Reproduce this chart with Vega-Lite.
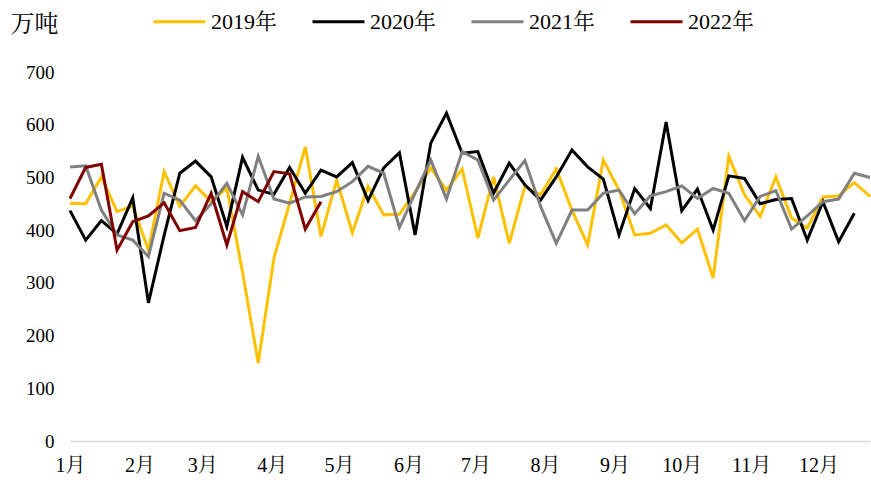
{
  "$schema": "https://vega.github.io/schema/vega-lite/v6.json",
  "width": 800,
  "height": 369,
  "autosize": {"type": "none"},
  "padding": {"left": 70, "top": 72, "right": 1, "bottom": 41},
  "background": "white",
  "config": {"view": {"stroke": null}, "font": "Liberation Serif, Noto Serif CJK SC, Noto Sans CJK SC"},
  "data": {"values": [
    {"week": "2021-01-01", "2019年": 451, "2020年": 437, "2021年": 520, "2022年": 460},
    {"week": "2021-01-08", "2019年": 450, "2020年": 381, "2021年": 522, "2022年": 519},
    {"week": "2021-01-15", "2019年": 501, "2020年": 418, "2021年": 438, "2022年": 525},
    {"week": "2021-01-22", "2019年": 435, "2020年": 393, "2021年": 391, "2022年": 362},
    {"week": "2021-01-29", "2019年": 446, "2020年": 461, "2021年": 381, "2022年": 416},
    {"week": "2021-02-05", "2019年": 362, "2020年": 262, "2021年": 350, "2022年": 427},
    {"week": "2021-02-12", "2019年": 511, "2020年": 390, "2021年": 470, "2022年": 452},
    {"week": "2021-02-19", "2019年": 445, "2020年": 508, "2021年": 457, "2022年": 399},
    {"week": "2021-02-26", "2019年": 484, "2020年": 531, "2021年": 418, "2022年": 405},
    {"week": "2021-03-05", "2019年": 454, "2020年": 501, "2021年": 450, "2022年": 470},
    {"week": "2021-03-12", "2019年": 480, "2020年": 407, "2021年": 489, "2022年": 372},
    {"week": "2021-03-19", "2019年": 320, "2020年": 538, "2021年": 429, "2022年": 473},
    {"week": "2021-03-26", "2019年": 148, "2020年": 476, "2021年": 540, "2022年": 454},
    {"week": "2021-04-02", "2019年": 347, "2020年": 468, "2021年": 459, "2022年": 511},
    {"week": "2021-04-09", "2019年": 451, "2020年": 519, "2021年": 451, "2022年": 507},
    {"week": "2021-04-16", "2019年": 558, "2020年": 470, "2021年": 463, "2022年": 402},
    {"week": "2021-04-23", "2019年": 388, "2020年": 514, "2021年": 464, "2022年": 454},
    {"week": "2021-04-30", "2019年": 495, "2020年": 501, "2021年": 473},
    {"week": "2021-05-07", "2019年": 395, "2020年": 528, "2021年": 492},
    {"week": "2021-05-14", "2019年": 483, "2020年": 456, "2021年": 521},
    {"week": "2021-05-21", "2019年": 429, "2020年": 518, "2021年": 508},
    {"week": "2021-05-28", "2019年": 430, "2020年": 547, "2021年": 405},
    {"week": "2021-06-04", "2019年": 472, "2020年": 391, "2021年": 470},
    {"week": "2021-06-11", "2019年": 518, "2020年": 565, "2021年": 533},
    {"week": "2021-06-18", "2019年": 476, "2020年": 622, "2021年": 459},
    {"week": "2021-06-25", "2019年": 516, "2020年": 546, "2021年": 549},
    {"week": "2021-07-02", "2019年": 385, "2020年": 549, "2021年": 533},
    {"week": "2021-07-09", "2019年": 501, "2020年": 470, "2021年": 457},
    {"week": "2021-07-16", "2019年": 375, "2020年": 527, "2021年": 495},
    {"week": "2021-07-23", "2019年": 483, "2020年": 486, "2021年": 532},
    {"week": "2021-07-30", "2019年": 467, "2020年": 457, "2021年": 445},
    {"week": "2021-08-06", "2019年": 516, "2020年": 501, "2021年": 375},
    {"week": "2021-08-13", "2019年": 438, "2020年": 552, "2021年": 438},
    {"week": "2021-08-20", "2019年": 372, "2020年": 520, "2021年": 438},
    {"week": "2021-08-27", "2019年": 533, "2020年": 497, "2021年": 470},
    {"week": "2021-09-03", "2019年": 476, "2020年": 391, "2021年": 476},
    {"week": "2021-09-10", "2019年": 391, "2020年": 479, "2021年": 431},
    {"week": "2021-09-17", "2019年": 394, "2020年": 441, "2021年": 465},
    {"week": "2021-09-24", "2019年": 410, "2020年": 605, "2021年": 473},
    {"week": "2021-10-01", "2019年": 376, "2020年": 437, "2021年": 484},
    {"week": "2021-10-08", "2019年": 402, "2020年": 478, "2021年": 460},
    {"week": "2021-10-15", "2019年": 309, "2020年": 400, "2021年": 479},
    {"week": "2021-10-22", "2019年": 540, "2020年": 503, "2021年": 470},
    {"week": "2021-10-29", "2019年": 467, "2020年": 498, "2021年": 418},
    {"week": "2021-11-05", "2019年": 426, "2020年": 450, "2021年": 464},
    {"week": "2021-11-12", "2019年": 501, "2020年": 458, "2021年": 475},
    {"week": "2021-11-19", "2019年": 423, "2020年": 460, "2021年": 402},
    {"week": "2021-11-26", "2019年": 404, "2020年": 381, "2021年": 427},
    {"week": "2021-12-03", "2019年": 463, "2020年": 454, "2021年": 454},
    {"week": "2021-12-10", "2019年": 465, "2020年": 378, "2021年": 459},
    {"week": "2021-12-17", "2019年": 490, "2020年": 432, "2021年": 508},
    {"week": "2021-12-24", "2019年": 464, "2021年": 500}
  ]},
  "transform": [{"fold": ["2019年", "2020年", "2021年", "2022年"], "as": ["series", "value"]}],
  "mark": {"type": "line", "strokeWidth": 3},
  "encoding": {
    "x": {
      "field": "week", "type": "temporal",
      "scale": {"type": "utc", "nice": false, "domain": [{"year": 2021, "month": 1, "date": 1, "utc": true}, {"year": 2021, "month": 12, "date": 24, "utc": true}]},
      "axis": {"title": null, "labelExpr": "utcFormat(datum.value, '%-m') + '月'", "tickCount": {"interval": "month", "step": 1}, "ticks": false, "tickSize": 0, "grid": false, "domainColor": "#d9d9d9", "domainWidth": 1.5, "labelFontSize": 20, "labelColor": "#000000", "labelPadding": 14, "labelFlush": false, "labelOverlap": false, "labelBound": false}
    },
    "y": {
      "field": "value", "type": "quantitative",
      "scale": {"domain": [0, 700], "nice": false},
      "axis": {"values": [0, 100, 200, 300, 400, 500, 600, 700], "domain": false, "ticks": false, "tickSize": 0, "grid": false, "labelFontSize": 19, "labelColor": "#000000", "labelPadding": 16, "title": "万吨", "titleAngle": 0, "titleX": -60, "titleY": -48, "titleAlign": "left", "titleBaseline": "middle", "titleFontSize": 24, "titleFontWeight": "normal", "titleColor": "#000000"}
    },
    "color": {
      "field": "series", "type": "nominal",
      "scale": {"domain": ["2019年", "2020年", "2021年", "2022年"], "range": ["#FFC000", "#000000", "#808080", "#800000"]},
      "legend": {"orient": "none", "direction": "horizontal", "legendX": 82, "legendY": -78, "title": null, "symbolType": "stroke", "symbolSize": 2704, "symbolStrokeWidth": 3, "labelFontSize": 22, "labelColor": "#000000", "columnPadding": 28, "labelOffset": 4}
    }
  }
}
